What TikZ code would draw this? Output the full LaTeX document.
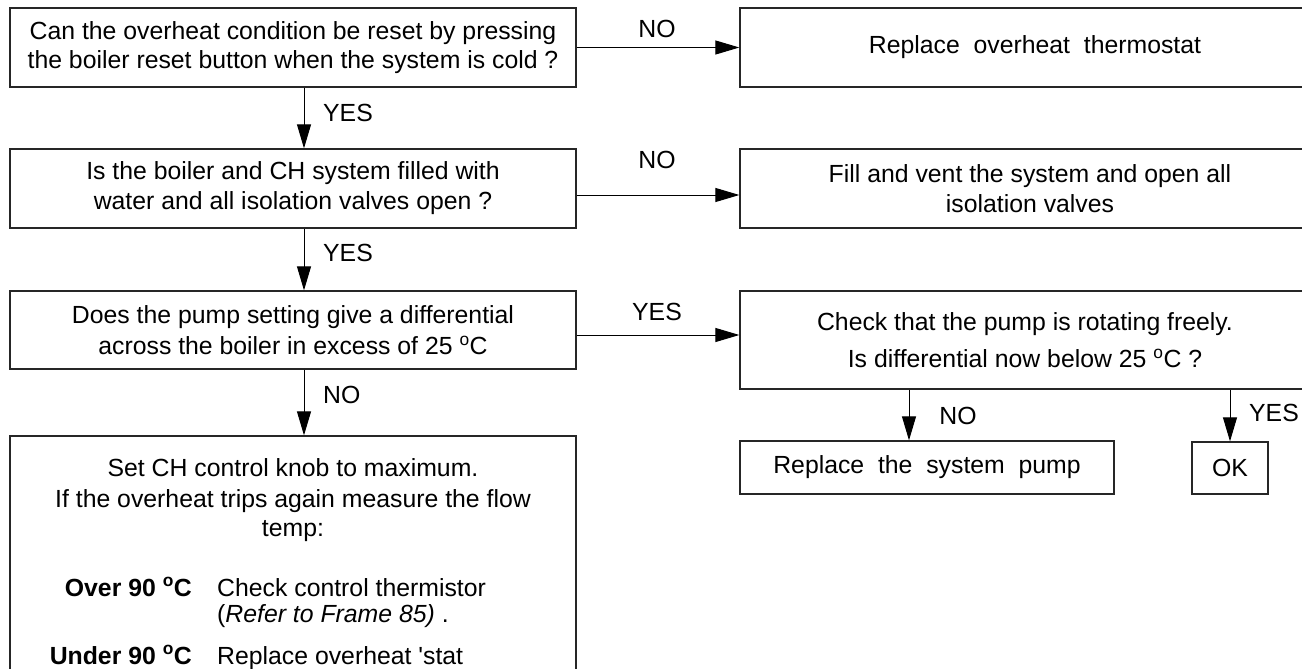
\documentclass[tikz,border=0pt]{standalone}
\usepackage{fontspec}
\setmainfont{Liberation Sans}
\usetikzlibrary{arrows.meta}
\begin{document}
\begin{tikzpicture}[x=1pt,y=-1pt,
  box/.style={draw=black!85, line width=1.3pt, rectangle, inner sep=0pt, align=center, font=\fontsize{24.8}{29}\selectfont},
  lbl/.style={font=\fontsize{24.8}{29}\selectfont, inner sep=0pt},
  arr/.style={line width=1pt, -{Triangle[length=24pt,width=14pt]}}]
\useasboundingbox (0,0) rectangle (1302,669);
\clip (0,0) rectangle (1302,669);
% main column
\node[box, minimum width=566pt, minimum height=79pt] (q1) at (293,47.5)
  {Can the overheat condition be reset by pressing\\the boiler reset button when the system is cold ?};
\node[box, minimum width=566pt, minimum height=79pt, font=\fontsize{24.8}{30}\selectfont] (q2) at (293,188.5)
  {Is the boiler and CH system filled with\\water and all isolation valves open ?};
\node[box, minimum width=566pt, minimum height=78pt, font=\fontsize{24.8}{31}\selectfont] (q3) at (293,330)
  {Does the pump setting give a differential\\across the boiler in excess of 25 \textsuperscript{o}C};
\node[box, minimum width=566pt, minimum height=264pt] (q4) at (293,568) {};
% right column
\node[box, minimum width=590pt, minimum height=79pt] (r1) at (1035,47.5)
  {Replace\ \ overheat\ \ thermostat};
\node[box, minimum width=580pt, minimum height=79pt, font=\fontsize{24.8}{30}\selectfont] (r2) at (1030,188.5)
  {Fill and vent the system and open all\\isolation valves};
\node[box, minimum width=570pt, minimum height=98pt, font=\fontsize{24.8}{37}\selectfont] (r3) at (1025,340)
  {Check that the pump is rotating freely.\\Is differential now below 25 \textsuperscript{o}C ?};
\node[box, minimum width=374pt, minimum height=53pt] (p1) at (927,467.5)
  {Replace\ \ the\ \ system\ \ pump};
\node[box, minimum width=76pt, minimum height=52pt] (ok) at (1230,468) {OK};
% texts inside q4
\node[lbl, anchor=base] (t1) at (293,476) {Set CH control knob to maximum.};
\node[lbl, anchor=base] (t2) at (293,507) {If the overheat trips again measure the flow};
\node[lbl, anchor=base] (t3) at (293,536) {temp:};
\node[lbl, anchor=base east] (o1) at (192,596) {\textbf{Over 90 \textsuperscript{o}C}};
\node[lbl, anchor=base west] (o2) at (217,596) {Check control thermistor};
\node[lbl, anchor=base west] (o3) at (217,622) {(\textit{Refer to Frame 85)} .};
\node[lbl, anchor=base east] (u1) at (192,664) {\textbf{Under 90 \textsuperscript{o}C}};
\node[lbl, anchor=base west] (u2) at (217,664) {Replace overheat \textquotesingle stat};
% horizontal connectors
\draw[arr] (q1.east) -- (q1.east -| r1.west);
\draw[arr] ([yshift=-6.5pt]q2.east) -- ([yshift=-6.5pt]q2.east -| r2.west);
\draw[arr] ([yshift=-5pt]q3.east) -- ([yshift=-5pt]q3.east -| r3.west);
\node[lbl] (l1) at (657,29) {NO};
\node[lbl] (l2) at (657,160) {NO};
\node[lbl] (l3) at (657,312) {YES};
% vertical connectors
\draw[arr] ([xshift=11pt]q1.south) -- ([xshift=11pt]q1.south |- q2.north);
\draw[arr] ([xshift=11pt]q2.south) -- ([xshift=11pt]q2.south |- q3.north);
\draw[arr] ([xshift=11pt]q3.south) -- ([xshift=11pt]q3.south |- q4.north);
\node[lbl, anchor=west] (l4) at (323,113) {YES};
\node[lbl, anchor=west] (l5) at (323,253) {YES};
\node[lbl, anchor=west] (l6) at (323,395) {NO};
\draw[arr] ([xshift=-18pt]p1.north |- r3.south) -- ([xshift=-18pt]p1.north);
\draw[arr] (ok.north |- r3.south) -- (ok.north);
\node[lbl] (l7) at (958,416) {NO};
\node[lbl] (l8) at (1274,413) {YES};
\end{tikzpicture}
\end{document}
